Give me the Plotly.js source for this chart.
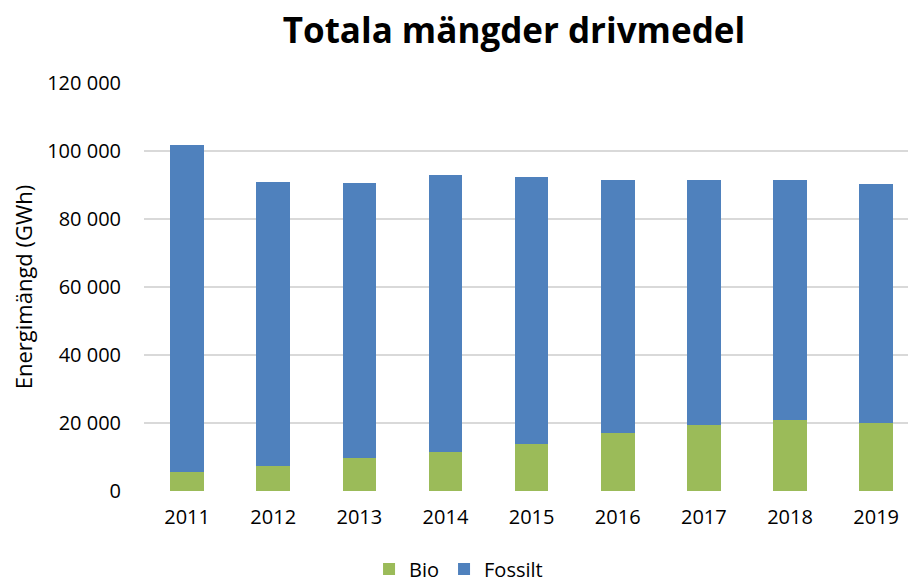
<!DOCTYPE html>
<html>
<head>
<meta charset="utf-8">
<script src="https://cdn.plot.ly/plotly-3.0.1.min.js"></script>
<style>html,body{margin:0;padding:0;background:#fff;}#chart{width:908px;height:582px;}</style>
</head>
<body>
<div id="chart"></div>
<script>
const years = ["2011","2012","2013","2014","2015","2016","2017","2018","2019"];
const bio = [5500, 7350, 9600, 11500, 13700, 17100, 19400, 20900, 20100];
const fossilt = [96400, 83650, 81000, 81400, 78800, 74300, 72000, 70500, 70100];
const yTickVals = [0, 20000, 40000, 60000, 80000, 100000, 120000];
const yTickText = ["0", "20 000", "40 000", "60 000", "80 000", "100 000", "120 000"];

const FONT = "'Open Sans', Lato, sans-serif";
const traces = [
  {type: "bar", name: "Bio", x: years, y: bio, marker: {color: "#9BBB59"}, width: 0.39},
  {type: "bar", name: "Fossilt", x: years, y: fossilt, marker: {color: "#4F81BD"}, width: 0.39}
];
const layout = {
  width: 908, height: 582,
  barmode: "stack",
  paper_bgcolor: "#fff", plot_bgcolor: "#fff",
  margin: {l: 144, r: 0, t: 83, b: 91},
  font: {family: FONT, color: "#000", size: 20},
  title: {text: "Totala mängder drivmedel", font: {family: FONT, size: 35, weight: "bold", color: "#000"},
          xref: "container", yref: "container", x: 0.566, xanchor: "center", y: 1 - 31/582, yanchor: "middle"},
  xaxis: {type: "category", range: [-0.5, 8.37], showgrid: false, zeroline: false, showline: false,
          ticks: "", ticklabelstandoff: 12, tickfont: {family: FONT, size: 20, color: "#000"}},
  yaxis: {range: [0, 120000], tickvals: yTickVals, ticktext: yTickText, showgrid: true, gridcolor: "#D9D9D9",
          gridwidth: 1.5, zeroline: false, showline: false, ticks: "", ticklabelstandoff: 22,
          tickfont: {family: FONT, size: 20, color: "#000"},
          title: {text: "Energimängd (GWh)", font: {family: FONT, size: 22, color: "#000"}, standoff: 8}},
  showlegend: true,
  legend: {orientation: "h", xref: "container", yref: "container", x: 0.505, xanchor: "center", y: 1 - 569/582, yanchor: "middle",
           font: {family: FONT, size: 20, color: "#000"}, traceorder: "normal", itemwidth: 30},
  bargap: 0.6
};
Plotly.newPlot("chart", traces, layout, {displayModeBar: false, staticPlot: true});
</script>
</body>
</html>
